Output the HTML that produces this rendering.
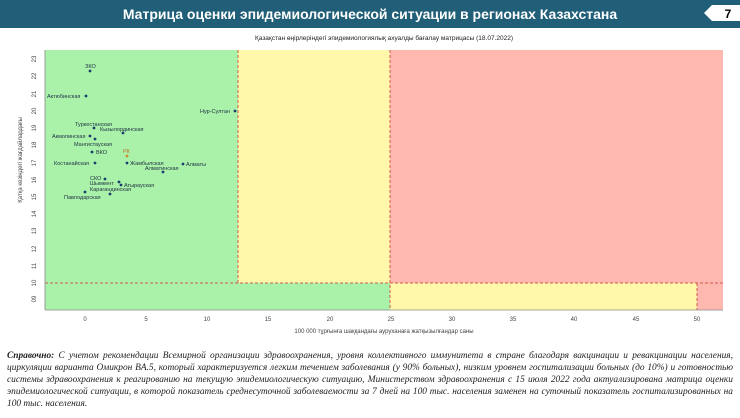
<!DOCTYPE html>
<html><head><meta charset="utf-8"><style>
body{margin:0;width:740px;height:418px;background:#fff;overflow:hidden;position:relative;font-family:"Liberation Sans",sans-serif}
.hdr{position:absolute;left:0;top:0;width:740px;height:28px;background:#215f78}
.hdr h1{margin:0;position:absolute;left:0;width:740px;top:6px;text-align:center;color:#fff;font-size:14px;font-weight:bold;letter-spacing:0}
.note{position:absolute;left:7px;top:350px;width:726px;font-family:"Liberation Serif",serif;font-style:italic;font-size:9.4px;line-height:12px;text-align:justify;color:#222}
</style></head><body>
<div class="hdr"><h1>Матрица оценки эпидемиологической ситуации в регионах Казахстана</h1></div>
<svg width="740" height="418" style="position:absolute;left:0;top:0" font-family="Liberation Sans, sans-serif">
<polygon points="740,5 712,5 704,13 712,21 740,21" fill="#fff"/>
<text x="728" y="18" font-size="12" font-weight="bold" text-anchor="middle" fill="#000">7</text>
<text x="384" y="40" font-size="6.5" text-anchor="middle" fill="#222">Қазақстан өңірлеріндегі эпидемиологиялық ахуалды бағалау матрицасы  (18.07.2022)</text>
<rect x="45" y="50" width="193" height="260" fill="#aaf2aa"/>
<rect x="238" y="50" width="152" height="233" fill="#fff8aa"/>
<rect x="390" y="50" width="333" height="233" fill="#ffb8b0"/>
<rect x="238" y="283" width="152" height="27" fill="#aaf2aa"/>
<rect x="390" y="283" width="307" height="27" fill="#fff8aa"/>
<rect x="697" y="283" width="26" height="27" fill="#ffb8b0"/>
<g stroke="#d05a4a" stroke-width="1" stroke-dasharray="3,2" fill="none">
<line x1="45" y1="283" x2="723" y2="283"/>
<line x1="238" y1="50" x2="238" y2="283"/>
<line x1="390" y1="50" x2="390" y2="310"/>
<line x1="697" y1="283" x2="697" y2="310"/>
</g>
<g stroke="#888" stroke-width="0.8">
<line x1="45" y1="50" x2="45" y2="310"/>
<line x1="45" y1="310" x2="723" y2="310"/>
</g>
<g font-size="6" fill="#444" text-anchor="middle">
<text x="85" y="321">0</text><text x="146" y="321">5</text><text x="207" y="321">10</text><text x="268" y="321">15</text><text x="330" y="321">20</text><text x="391" y="321">25</text><text x="452" y="321">30</text><text x="513" y="321">35</text><text x="574" y="321">40</text><text x="636" y="321">45</text><text x="697" y="321">50</text>
<text x="384" y="333">100 000 тұрғынға шаққандағы ауруханаға жатқызылғандар саны</text>
</g>
<g font-size="6" fill="#444" text-anchor="middle">
<text transform="translate(36,299) rotate(-90)">09</text>
<text transform="translate(36,283) rotate(-90)">10</text>
<text transform="translate(36,266) rotate(-90)">11</text>
<text transform="translate(36,249) rotate(-90)">12</text>
<text transform="translate(36,231) rotate(-90)">13</text>
<text transform="translate(36,214) rotate(-90)">14</text>
<text transform="translate(36,197) rotate(-90)">15</text>
<text transform="translate(36,180) rotate(-90)">16</text>
<text transform="translate(36,163) rotate(-90)">17</text>
<text transform="translate(36,145) rotate(-90)">18</text>
<text transform="translate(36,128) rotate(-90)">19</text>
<text transform="translate(36,111) rotate(-90)">20</text>
<text transform="translate(36,94) rotate(-90)">21</text>
<text transform="translate(36,76) rotate(-90)">22</text>
<text transform="translate(36,59) rotate(-90)">23</text>
<text transform="translate(22,160) rotate(-90)">Қатқа кезіндегі жағдайлардағы</text>
</g>
<g fill="#1a3d6e"><circle cx="90" cy="71" r="1.4"/><circle cx="86" cy="96" r="1.4"/><circle cx="235" cy="111" r="1.4"/><circle cx="94" cy="128" r="1.4"/><circle cx="123" cy="133" r="1.4"/><circle cx="90" cy="136" r="1.4"/><circle cx="95" cy="139" r="1.4"/><circle cx="92" cy="152" r="1.4"/><circle cx="127" cy="163" r="1.4"/><circle cx="95" cy="163" r="1.4"/><circle cx="183" cy="164" r="1.4"/><circle cx="163" cy="172" r="1.4"/><circle cx="105" cy="179" r="1.4"/><circle cx="119" cy="182" r="1.4"/><circle cx="121" cy="185" r="1.4"/><circle cx="110" cy="194" r="1.4"/><circle cx="85" cy="192" r="1.4"/></g>
<circle cx="127" cy="156" r="1.4" fill="#d08a30"/>
<g font-size="5.5" fill="#234">
<text x="85" y="68">ЗКО</text>
<text x="47" y="98">Актюбинская</text>
<text x="200" y="113">Нур-Султан</text>
<text x="75" y="126">Туркестанская</text>
<text x="100" y="131">Кызылординская</text>
<text x="52" y="138">Акмолинская</text>
<text x="74" y="146">Мангистауская</text>
<text x="96" y="154">ВКО</text>
<text x="123" y="153" fill="#c07020">РК</text>
<text x="130" y="165">Жамбылская</text>
<text x="54" y="165">Костанайская</text>
<text x="186" y="166">Алматы</text>
<text x="145" y="170">Алматинская</text>
<text x="90" y="180">СКО</text>
<text x="90" y="185">Шымкент</text>
<text x="124" y="187">Атырауская</text>
<text x="90" y="191">Карагандинская</text>
<text x="64" y="199">Павлодарская</text>
</g>
</svg>
<div class="note"><b>Справочно:</b> С учетом рекомендации Всемирной организации здравоохранения, уровня коллективного иммунитета в стране благодаря вакцинации и ревакцинации населения, циркуляции варианта Омикрон BA.5, который характеризуется легким течением заболевания (у 90% больных), низким уровнем госпитализации больных (до 10%) и готовностью системы здравоохранения к реагированию на текущую эпидемиологическую ситуацию, Министерством здравоохранения с 15 июля 2022 года актуализирована матрица оценки эпидемиологической ситуации, в которой показатель  среднесуточной заболеваемости за 7 дней на 100 тыс. населения заменен на  суточный показатель госпитализированных на 100 тыс. населения.</div>
</body></html>
